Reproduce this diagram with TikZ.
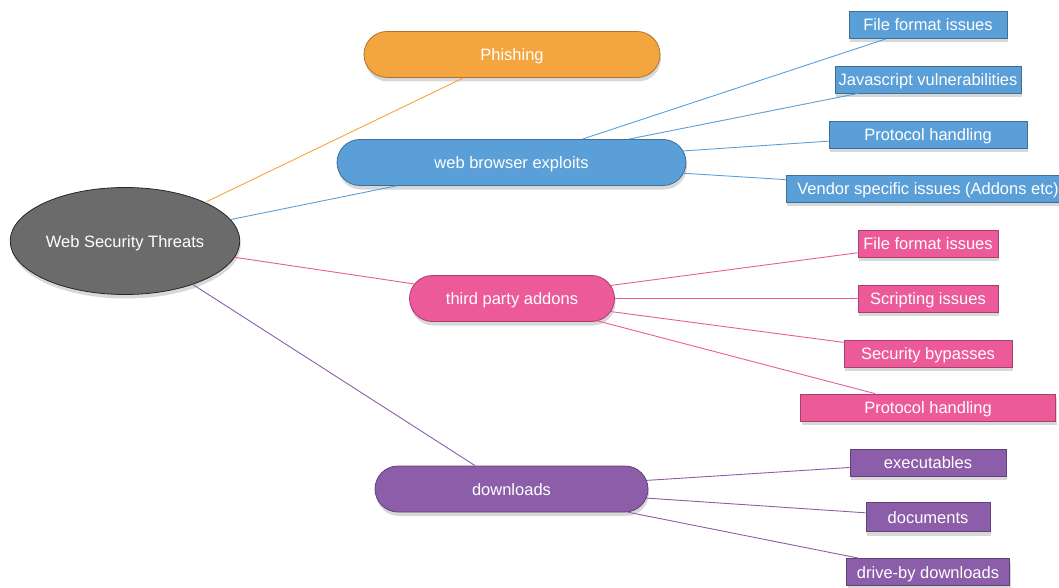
\documentclass[tikz,border=0pt]{standalone}
\usepackage{fontspec}
\setmainfont{Liberation Sans}
\usetikzlibrary{positioning}
\usetikzlibrary{shapes.geometric}
\usetikzlibrary{shapes.misc}
\usetikzlibrary{shadows}

\definecolor{rootgray}{HTML}{6B6B6B}
\definecolor{phish}{HTML}{F5A53F}
\definecolor{browser}{HTML}{5A9FD8}
\definecolor{addon}{HTML}{EC5A9A}
\definecolor{dload}{HTML}{8C5DA8}

\begin{document}
\begin{tikzpicture}[x=1pt,y=-1pt]
  \tikzset{
    threat/.style={text=white,font=\fontsize{16.5}{18}\selectfont,inner sep=2pt,text height=12pt,text depth=0pt,line width=0.8pt},
    softshadow/.style={drop shadow={shadow xshift=1pt,shadow yshift=-4pt,opacity=.22,fill=black!70}},
    branch/.style={threat,rounded rectangle,minimum height=46pt,draw=#1!70!black,fill=#1,softshadow},
    leaf/.style={threat,rectangle,minimum height=27pt,draw=#1!70!black,fill=#1,softshadow},
  }
  \useasboundingbox (0,0) rectangle (1059,588);
    %ROOT
    \node[threat,ellipse,minimum width=225pt,minimum height=107pt,draw=black!85,fill=rootgray,softshadow] (root) at (125,241) {Web Security Threats};
    %BRANCHES
    \node[branch=phish,minimum width=300pt] (phishing) at (512,54.5) {Phishing};
    \node[branch=browser,minimum width=353pt] (browser) at (511.5,162.5) {web browser exploits};
    \node[branch=addon,minimum width=209pt] (addons) at (512,298.5) {third party addons};
    \node[branch=dload,minimum width=277pt] (downloads) at (511.5,489) {downloads};
    %LEAVES BROWSER
    \node[leaf=browser,minimum width=158pt] (b1) at (928,25) {File format issues};
    \node[leaf=browser,minimum width=186pt] (b2) at (928,79.5) {Javascript vulnerabilities};
    \node[leaf=browser,minimum width=198pt] (b3) at (928,134.5) {Protocol handling};
    \node[leaf=browser,minimum width=284pt] (b4) at (928,188.5) {Vendor specific issues (Addons etc)};
    %LEAVES ADDONS
    \node[leaf=addon,minimum width=140pt] (a1) at (928,243.5) {File format issues};
    \node[leaf=addon,minimum width=140pt] (a2) at (928,298.5) {Scripting issues};
    \node[leaf=addon,minimum width=168pt] (a3) at (928,353.5) {Security bypasses};
    \node[leaf=addon,minimum width=255pt] (a4) at (928,407.5) {Protocol handling};
    %LEAVES DOWNLOADS
    \node[leaf=dload,minimum width=156pt] (d1) at (928,462.5) {executables};
    \node[leaf=dload,minimum width=124pt,minimum height=29pt] (d2) at (928,517) {documents};
    \node[leaf=dload,minimum width=163pt] (d3) at (928,572) {drive-by downloads};
    \foreach \x/\y/\c in {root/phishing/phish,root/browser/browser,root/addons/addon,root/downloads/dload,
      browser/b1/browser,browser/b2/browser,browser/b3/browser,browser/b4/browser,
      addons/a1/addon,addons/a2/addon,addons/a3/addon,addons/a4/addon,
      downloads/d1/dload,downloads/d2/dload,downloads/d3/dload} {
      \draw[line width=0.9pt,\c] (\x) -- (\y) ;
    }
  \end{tikzpicture}
\end{document}
